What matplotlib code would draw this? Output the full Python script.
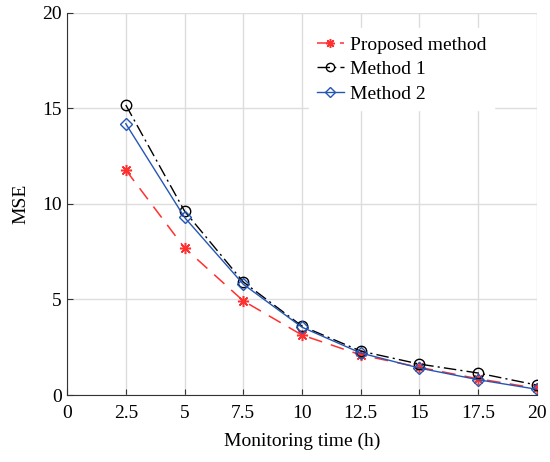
import numpy as np
import matplotlib.pyplot as plt

plt.rcParams['font.family'] = ['Liberation Serif', 'DejaVu Serif']

# Данные
time_h = [2.5, 5, 7.5, 10, 12.5, 15, 17.5, 20]
proposed = [11.78, 7.7, 4.93, 3.14, 2.1, 1.45, 0.85, 0.35]
method1 = [15.18, 9.63, 5.92, 3.61, 2.3, 1.62, 1.15, 0.52]
method2 = [14.2, 9.3, 5.8, 3.55, 2.2, 1.41, 0.8, 0.3]

fig = plt.figure(figsize=(5.5, 4.62), dpi=100)
ax = fig.add_axes([0.122, 0.145, 0.854, 0.827])

ax.plot(time_h, proposed, color='#ff3030', linestyle=(0, (9, 6)), lw=1.1,
        marker=(8, 2, 0), markersize=8, markeredgewidth=1.1, label='Proposed method')
ax.plot(time_h, method1, color='black', linestyle=(0, (9, 3, 1.5, 3)), lw=1.0,
        marker='o', markersize=7.5, markerfacecolor='none', label='Method 1')
ax.plot(time_h, method2, color='#2457b5', linestyle='-', lw=1.0,
        marker='D', markersize=6, markerfacecolor='none', label='Method 2')

ax.set_xlim(0, 20)
ax.set_ylim(0, 20)
ax.set_xticks(np.arange(0, 20.1, 2.5))
ax.set_xticklabels(['0', '2.5', '5', '7.5', '10', '12.5', '15', '17.5', '20'])
ax.set_yticks([0, 5, 10, 15, 20])
ax.tick_params(direction='in', labelsize=14, length=4, color='#333333')
ax.tick_params(axis='x', pad=7)
ax.tick_params(axis='y', pad=4)
ax.grid(True, color='#dddddd', lw=1.0)
ax.set_axisbelow(True)
for s in ['top', 'right']:
    ax.spines[s].set_visible(False)
for s in ['left', 'bottom']:
    ax.spines[s].set_color('#333333')

ax.set_xlabel('Monitoring time (h)', fontsize=14, labelpad=8)
ax.set_ylabel('MSE', fontsize=14, labelpad=9)

leg = ax.legend(loc='upper right', bbox_to_anchor=(0.93, 0.985), fontsize=14,
                frameon=True, fancybox=False, handlelength=1.4, handletextpad=0.3,
                labelspacing=0.35, borderpad=0.4, markerscale=0.8)
leg.get_frame().set_edgecolor('white')
leg.get_frame().set_alpha(1)

fig.savefig('out.png', dpi=100)
